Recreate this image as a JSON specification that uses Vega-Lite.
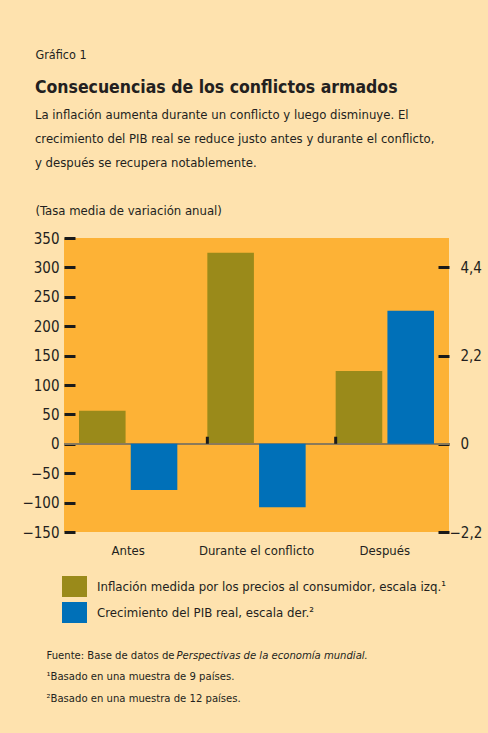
{
  "$schema": "https://vega.github.io/schema/vega-lite/v6.json",
  "width": 385,
  "height": 294,
  "autosize": {"type": "none"},
  "padding": {"left": 64, "top": 238, "right": 39, "bottom": 201},
  "background": "#FEE2AE",
  "config": {
    "font": "DejaVu Sans Condensed, sans-serif",
    "view": {"stroke": null, "fill": "#FDB236"},
    "axis": {"labelColor": "#231F20", "titleColor": "#231F20", "tickColor": "#1A1A1A", "grid": false, "domain": false}
  },
  "title": {
    "text": "Consecuencias de los conflictos armados",
    "subtitle": [
      "La inflación aumenta durante un conflicto y luego disminuye. El",
      "crecimiento del PIB real se reduce justo antes y durante el conflicto,",
      "y después se recupera notablemente."
    ],
    "anchor": "start",
    "frame": "bounds",
    "orient": "top",
    "offset": -122,
    "dx": 13,
    "fontSize": 17.5,
    "fontWeight": "bold",
    "color": "#231F20",
    "subtitleFontSize": 13,
    "subtitleLineHeight": 24,
    "subtitlePadding": 13,
    "subtitleColor": "#231F20"
  },
  "data": {
    "values": [
      {"periodo": "Antes", "serie": "Inflación medida por los precios al consumidor, escala izq.¹", "escala": "izq", "valor": 56},
      {"periodo": "Antes", "serie": "Crecimiento del PIB real, escala der.²", "escala": "der", "valor": -1.15},
      {"periodo": "Durante el conflicto", "serie": "Inflación medida por los precios al consumidor, escala izq.¹", "escala": "izq", "valor": 325},
      {"periodo": "Durante el conflicto", "serie": "Crecimiento del PIB real, escala der.²", "escala": "der", "valor": -1.58},
      {"periodo": "Después", "serie": "Inflación medida por los precios al consumidor, escala izq.¹", "escala": "izq", "valor": 124},
      {"periodo": "Después", "serie": "Crecimiento del PIB real, escala der.²", "escala": "der", "valor": 3.32}
    ]
  },
  "layer": [
    {
      "transform": [{"filter": "datum.escala === 'izq'"}],
      "mark": {"type": "bar"},
      "encoding": {
        "x": {
          "field": "periodo", "type": "nominal", "sort": null,
          "scale": {"paddingInner": 0.234, "paddingOuter": 0.117},
          "axis": {
            "labelAngle": 0, "ticks": false, "labelFontSize": 13, "labelPadding": 12,
            "title": ["Fuente: Base de datos de ", "¹Basado en una muestra de 9 países.", "²Basado en una muestra de 12 países."],
            "titleFontSize": 11.2, "titleFontWeight": "normal", "titleLineHeight": 21.5,
            "titleX": -18, "titleY": 126, "titleAlign": "left", "titleAnchor": "start", "titleBaseline": "alphabetic", "titleAngle": 0
          }
        },
        "xOffset": {
          "field": "serie", "type": "nominal",
          "scale": {"domain": ["Inflación medida por los precios al consumidor, escala izq.¹", "Crecimiento del PIB real, escala der.²"], "paddingInner": 0.1}
        },
        "y": {
          "field": "valor", "type": "quantitative",
          "scale": {"domain": [-150, 350], "nice": false, "zero": false},
          "axis": {
            "orient": "left",
            "values": [-150, -100, -50, 0, 50, 100, 150, 200, 250, 300, 350],
            "tickSize": -11, "tickWidth": 3, "labelPadding": 16, "labelFontSize": 15,
            "title": "Gráfico 1", "titleFontSize": 12.5, "titleFontWeight": "normal",
            "titleX": -29, "titleY": -180, "titleAngle": 0, "titleAlign": "left", "titleBaseline": "alphabetic"
          }
        },
        "color": {
          "field": "serie", "type": "nominal",
          "scale": {"domain": ["Inflación medida por los precios al consumidor, escala izq.¹", "Crecimiento del PIB real, escala der.²"], "range": ["#9A8A1A", "#0070B8"]},
          "legend": {
            "orient": "none", "legendX": 0, "legendY": 338, "title": null, "padding": 0,
            "symbolType": "M-1.19,-1H1.19V1H-1.19Z", "symbolSize": 441, "symbolStrokeWidth": 0, "symbolOpacity": 1,
            "labelFontSize": 13.1, "labelOffset": 12, "rowPadding": 5, "labelColor": "#231F20", "labelLimit": 500
          }
        }
      }
    },
    {
      "mark": {"type": "rule", "color": "#8A7A5A", "strokeWidth": 1.5},
      "encoding": {
        "y": {
          "datum": 0, "type": "quantitative",
          "scale": {"domain": [-150, 350], "nice": false, "zero": false},
          "axis": {
            "orient": "left", "labels": false, "ticks": false, "domain": false, "grid": false,
            "title": "(Tasa media de variación anual)", "titleFontSize": 13, "titleFontWeight": "normal",
            "titleX": -29, "titleY": -24, "titleAngle": 0, "titleAlign": "left", "titleBaseline": "alphabetic"
          }
        }
      }
    },
    {
      "transform": [{"filter": "datum.escala === 'izq' && datum.periodo !== 'Antes'"}],
      "mark": {"type": "rule", "color": "#1A1A1A", "strokeWidth": 3},
      "encoding": {
        "x": {"field": "periodo", "type": "nominal", "sort": null, "bandPosition": 0},
        "y": {"datum": 0, "type": "quantitative", "scale": {"domain": [-150, 350], "nice": false, "zero": false}, "axis": null},
        "y2": {"datum": 12}
      }
    },
    {
      "transform": [{"filter": "datum.escala === 'der'"}],
      "mark": {"type": "bar"},
      "encoding": {
        "x": {"field": "periodo", "type": "nominal", "sort": null},
        "xOffset": {"field": "serie", "type": "nominal"},
        "y": {
          "field": "valor", "type": "quantitative",
          "scale": {"domain": [-2.2, 5.1333], "nice": false, "zero": false},
          "axis": {
            "orient": "right",
            "values": [-2.2, 0, 2.2, 4.4],
            "labelExpr": "datum.value == 0 ? '0' : replace(format(datum.value, '.1f'), '.', ',')",
            "tickSize": -11, "tickWidth": 3, "labelFontSize": 15,
            "labelPadding": {"condition": {"test": "datum.value < 0", "value": 11}, "value": 22},
            "title": "Perspectivas de la economía mundial.", "titleFontSize": 11.2, "titleFontWeight": "normal", "titleFontStyle": "italic",
            "titleX": -273, "titleY": 420, "titleAngle": 0, "titleAlign": "left", "titleBaseline": "alphabetic"
          }
        },
        "color": {"field": "serie", "type": "nominal"}
      }
    }
  ],
  "resolve": {"scale": {"y": "independent"}, "axis": {"y": "independent"}}
}
